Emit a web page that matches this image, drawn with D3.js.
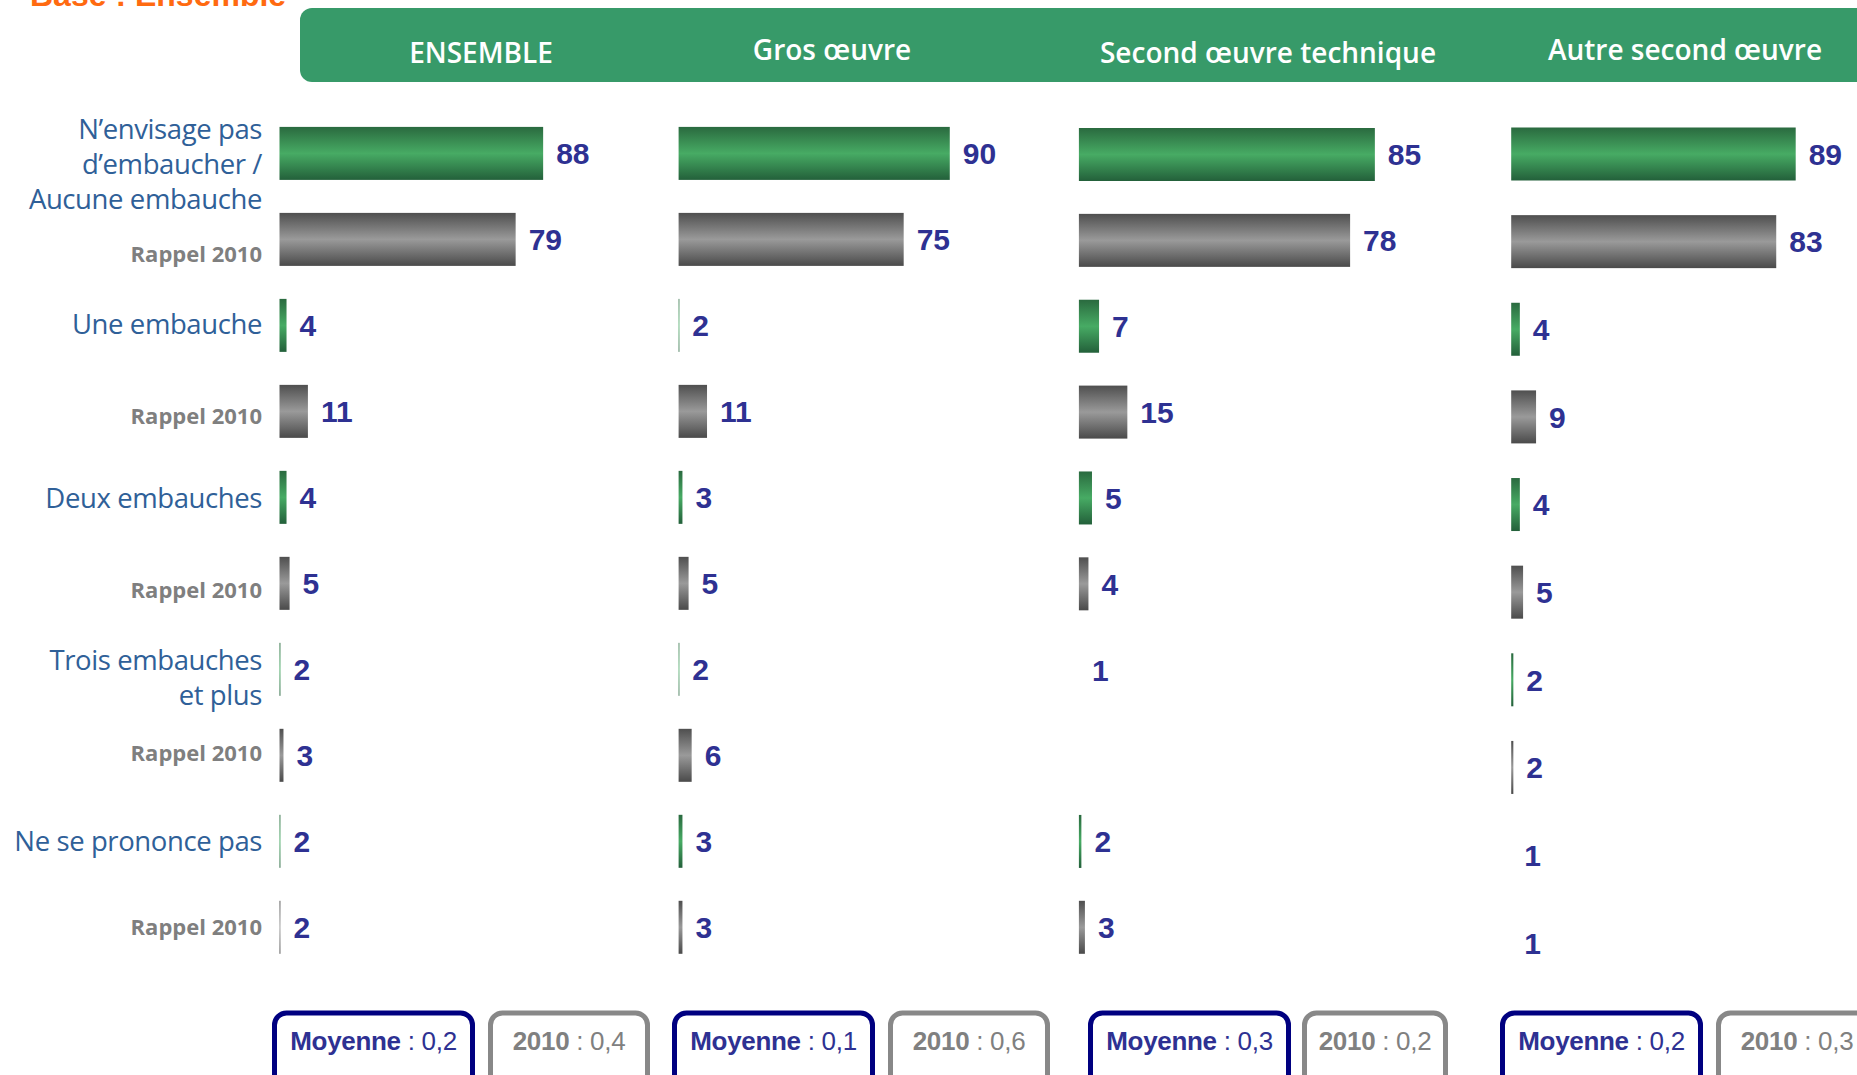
<!DOCTYPE html>
<html>
<head>
<meta charset="utf-8">
<script src="https://cdn.jsdelivr.net/npm/d3@7"></script>
<style>
  body { margin: 0; background: #fff; }
</style>
</head>
<body>
<svg id="chart"></svg>
<script>
// ---- data ----
const panelNames = ['ENSEMBLE', 'Gros œuvre', 'Second œuvre technique', 'Autre second œuvre'];
const categories = [
  ['N’envisage pas', 'd’embaucher /', 'Aucune embauche'],
  ['Une embauche'],
  ['Deux embauches'],
  ['Trois embauches', 'et plus'],
  ['Ne se prononce pas']
];
const rappelLabel = 'Rappel 2010';
// current wave, one array per panel, in category order
const valuesNow = [
  [88, 4, 4, 2, 2],
  [90, 2, 3, 2, 3],
  [85, 7, 5, 1, 2],
  [89, 4, 4, 2, 1]
];
// 2010 reminder
const values2010 = [
  [79, 11, 5, 3, 2],
  [75, 11, 5, 6, 3],
  [78, 15, 4, null, 3],
  [83, 9, 5, 2, 1]
];
const moyenneNow = ['0,2', '0,1', '0,3', '0,2'];
const moyenne2010 = ['0,4', '0,6', '0,2', '0,3'];

// ---- layout ----
const width = 1857, height = 1075;
const panelLayout = [
  { x0: 279.5, domain: [1.7, 100], x1: 579.8, y: [153.4, 927.3], head: [481, 53], box: [272, 488], box2W: 162 },
  { x0: 678.6, domain: [1.75, 100], x1: 980.5, y: [153.4, 927.3], head: [832, 50], box: [672, 888], box2W: 162 },
  { x0: 1078.9, domain: [1.3, 100], x1: 1427.9, y: [154.5, 927.3], head: [1268, 53], box: [1088, 1302], box2W: 146 },
  { x0: 1511.2, domain: [1.34, 100], x1: 1831.4, y: [154, 942.7], head: [1685, 50], box: [1500, 1716], box2W: 162 }
];
const barH = 53;
const labelRight = 262;
const catOffset = [11, -1, 1, 9, 0];
const rappelOffset = [15, 5, 7, -2, 0];

const svg = d3.select('#chart')
  .attr('width', width)
  .attr('height', height)
  .attr('viewBox', `0 0 ${width} ${height}`);

const defs = svg.append('defs');
function addGradient(id, dark, light, dark2) {
  const g = defs.append('linearGradient').attr('id', id)
    .attr('x1', 0).attr('y1', 0).attr('x2', 0).attr('y2', 1);
  g.append('stop').attr('offset', '0%').attr('stop-color', dark);
  g.append('stop').attr('offset', '50%').attr('stop-color', light);
  g.append('stop').attr('offset', '100%').attr('stop-color', dark2);
}
addGradient('gradGreen', '#2a6a3f', '#47ab64', '#23603a');
addGradient('gradGray', '#4f4f4f', '#9a9a9a', '#4a4a4a');

// orange title, cut at the top edge as in the source slide
svg.append('text')
  .attr('x', 30).attr('y', 6)
  .style('font-family', '"Liberation Sans", Arial, sans-serif')
  .style('font-weight', 'bold')
  .style('font-size', '32px')
  .style('fill', '#ff6a10')
  .text('Base : Ensemble');

// header band
svg.append('rect')
  .attr('x', 300).attr('y', 8)
  .attr('width', 1600).attr('height', 74)
  .attr('rx', 12)
  .attr('fill', '#379a69');

// row keys: category index + year
const rowKeys = [];
categories.forEach((c, i) => { rowKeys.push(i + '-now'); rowKeys.push(i + '-2010'); });

const y0 = d3.scalePoint().domain(rowKeys).range(panelLayout[0].y);

// category labels
const catG = svg.append('g')
  .style('font-family', '"Open Sans", sans-serif');

categories.forEach((lines, i) => {
  const cy = y0(i + '-now') + catOffset[i];
  const lh = 35;
  const t = catG.append('text')
    .attr('text-anchor', 'end')
    .style('font-size', '27.5px')
    .style('letter-spacing', '-0.4px')
    .style('fill', '#2f6098');
  lines.forEach((line, j) => {
    t.append('tspan')
      .attr('x', labelRight)
      .attr('y', cy + (j - (lines.length - 1) / 2) * lh)
      .attr('dy', '0.35em')
      .text(line);
  });
  // keep long labels inside the page
  const bb = t.node().getBBox();
  if (bb.x < 12) {
    t.selectAll('tspan').attr('x', labelRight + (12 - bb.x));
  }

  catG.append('text')
    .attr('x', labelRight)
    .attr('y', y0(i + '-2010') + rappelOffset[i])
    .attr('dy', '0.35em')
    .attr('text-anchor', 'end')
    .style('font-size', '22px')
    .style('font-weight', 700)
    .style('fill', '#7f7f7f')
    .text(rappelLabel);
});

// panels
panelNames.forEach((name, p) => {
  const lay = panelLayout[p];
  const x = d3.scaleLinear().domain(lay.domain).range([lay.x0, lay.x1]).clamp(true);
  const y = d3.scalePoint().domain(rowKeys).range(lay.y);

  svg.append('text')
    .attr('x', lay.head[0]).attr('y', lay.head[1])
    .attr('dy', '0.35em')
    .attr('text-anchor', 'middle')
    .style('font-family', '"Open Sans", sans-serif')
    .style('font-weight', 600)
    .style('font-size', '28px')
    .style('fill', '#ffffff')
    .text(name);

  const rows = [];
  categories.forEach((c, i) => {
    rows.push({ key: i + '-now', value: valuesNow[p][i], fill: 'url(#gradGreen)' });
    rows.push({ key: i + '-2010', value: values2010[p][i], fill: 'url(#gradGray)' });
  });
  const shown = rows.filter(d => d.value != null);

  const g = svg.append('g');
  g.selectAll('rect.bar')
    .data(shown)
    .join('rect')
    .attr('class', 'bar')
    .attr('x', lay.x0)
    .attr('y', d => y(d.key) - barH / 2)
    .attr('width', d => x(d.value) - lay.x0)
    .attr('height', barH)
    .attr('fill', d => d.fill);

  g.selectAll('text.val')
    .data(shown)
    .join('text')
    .attr('class', 'val')
    .attr('x', d => x(d.value) + 13)
    .attr('y', d => y(d.key))
    .attr('dy', '0.36em')
    .style('font-family', '"Liberation Sans", Arial, sans-serif')
    .style('font-weight', 'bold')
    .style('font-size', '30px')
    .style('fill', '#2e3192')
    .text(d => d.value);

  // average boxes
  const boxes = [
    { x: lay.box[0], w: 203, stroke: '#000080', color: '#2e3192', label: 'Moyenne', val: moyenneNow[p] },
    { x: lay.box[1], w: lay.box2W, stroke: '#888888', color: '#808080', label: '2010', val: moyenne2010[p] }
  ];
  boxes.forEach(b => {
    svg.append('rect')
      .attr('x', b.x + 2.5).attr('y', 1013)
      .attr('width', b.w - 5).attr('height', 90)
      .attr('rx', 12)
      .attr('fill', '#fff')
      .attr('stroke', b.stroke)
      .attr('stroke-width', 5);
    const t = svg.append('text')
      .attr('x', b.x + b.w / 2).attr('y', 1041)
      .attr('dy', '0.35em')
      .attr('text-anchor', 'middle')
      .style('font-family', '"Liberation Sans", Arial, sans-serif')
      .style('font-size', '26px')
      .style('letter-spacing', '-0.3px')
      .style('fill', b.color);
    t.append('tspan').style('font-weight', 'bold').text(b.label);
    t.append('tspan').text(' : ' + b.val);
  });
});
</script>
</body>
</html>
